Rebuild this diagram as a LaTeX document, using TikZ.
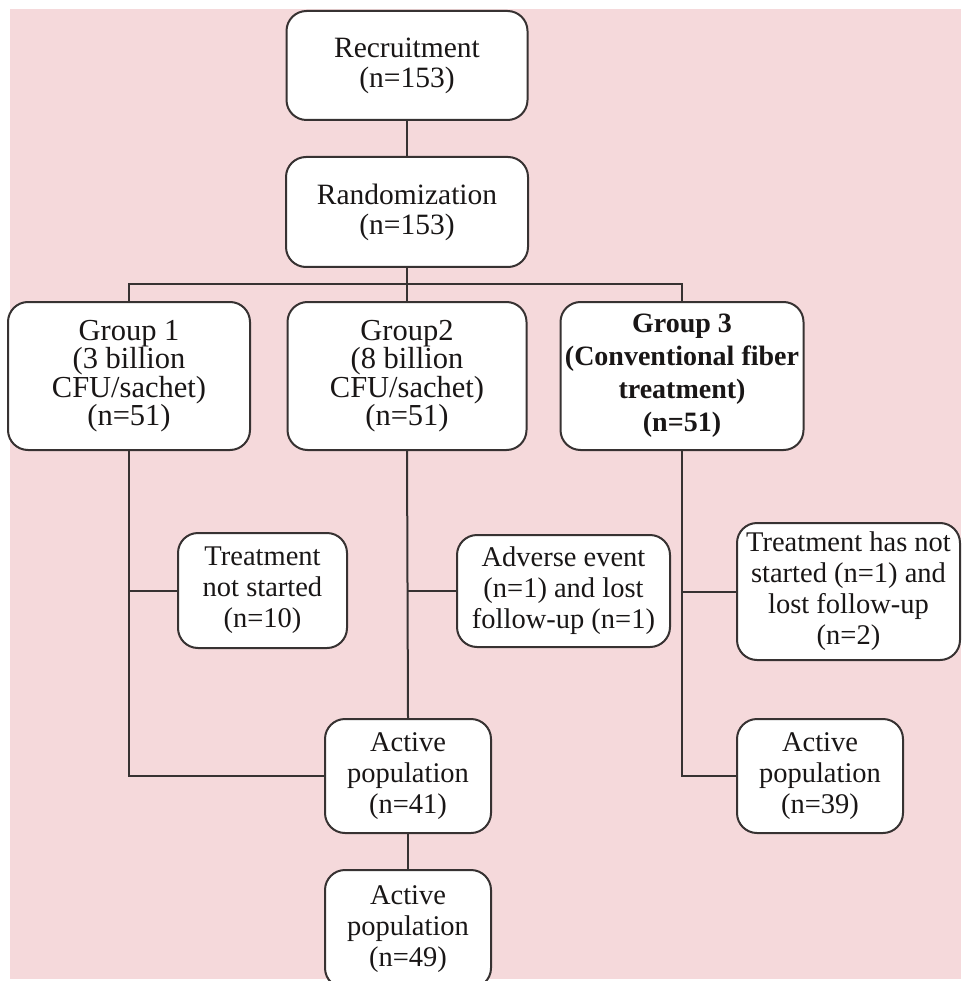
\documentclass[tikz,border=0pt]{standalone}
\usepackage{fontspec}
\setmainfont{Liberation Serif}
\definecolor{bgpink}{RGB}{245,217,219}
\definecolor{edge}{RGB}{55,50,50}
\definecolor{ink}{RGB}{25,22,22}
\tikzset{
  box/.style={draw=edge, line width=2pt, fill=white, rounded corners=20pt,
    align=center, inner sep=0pt, text=ink,
    font=\fontsize{28.5}{31}\selectfont},
  topbox/.style={box, font=\fontsize{29.5}{30}\selectfont},
  grp/.style={box, font=\fontsize{30.5}{28.5}\selectfont},
  grpb/.style={box, font=\fontsize{28}{33}\selectfont\bfseries},
  link/.style={draw=edge, line width=2pt}
}
\begin{document}
\begin{tikzpicture}[x=1pt, y=-1pt]
\useasboundingbox (0,0) rectangle (961,981);
\clip (0,0) rectangle (961,981);
\fill[white] (0,0) rectangle (961,981);
\fill[bgpink] (10,9) rectangle (961,979);

% top
\node[topbox, minimum width=241pt, minimum height=109pt] (rec) at (407,65.5) {Recruitment\\(n=153)};
\node[topbox, minimum width=242pt, minimum height=110pt] (rand) at (407,212) {Randomization\\(n=153)};

% groups
\node[grp, minimum width=242pt, minimum height=148pt] (g1) at (129,376) {Group 1\\(3 billion\\CFU/sachet)\\(n=51)};
\node[grp, minimum width=239pt, minimum height=148pt] (g2) at (407,376) {Group2\\(8 billion\\CFU/sachet)\\(n=51)};
\node[grpb, minimum width=243pt, minimum height=148pt] (g3) at (682,376) {Group 3\\(Conventional fiber\\treatment)\\(n=51)};

% exclusions
\node[box, minimum width=169pt, minimum height=115pt] (t1) at (262.5,590.5) {Treatment\\not started\\(n=10)};
\node[box, minimum width=213pt, minimum height=112pt] (t2) at (563.5,591) {Adverse event\\(n=1) and lost\\follow-up (n=1)};
\node[box, minimum width=223pt, minimum height=137pt] (t3) at (848.5,591.5) {Treatment has not\\started (n=1) and\\lost follow-up\\(n=2)};

% active populations
\node[box, minimum width=166pt, minimum height=114pt] (a41) at (408,776) {Active\\population\\(n=41)};
\node[box, minimum width=166pt, minimum height=114pt] (a39) at (820,776) {Active\\population\\(n=39)};
\node[box, minimum width=166pt, minimum height=118pt] (a49) at (408,929) {Active\\population\\(n=49)};

% connectors
\coordinate (bus) at (407,284);
\draw[link] (rec.south) -- (rand.north);
\draw[link] (rand.south) -- (bus);
\draw[link] (g1.north) |- (bus) -| (g3.north);
\draw[link] (bus) -- (g2.north);
\draw[link] (g1.south) |- (a41.west);
\draw[link] (t1.west) -- (t1.west -| g1.south);
\draw[link] (g2.south) -- (a41.north);
\draw[link] (t2.west) -- (t2.west -| g2.south);
\draw[link] (g3.south) |- (a39.west);
\draw[link] (t3.west) -- (t3.west -| g3.south);
\draw[link] (a41.south) -- (a49.north);
\end{tikzpicture}
\end{document}
